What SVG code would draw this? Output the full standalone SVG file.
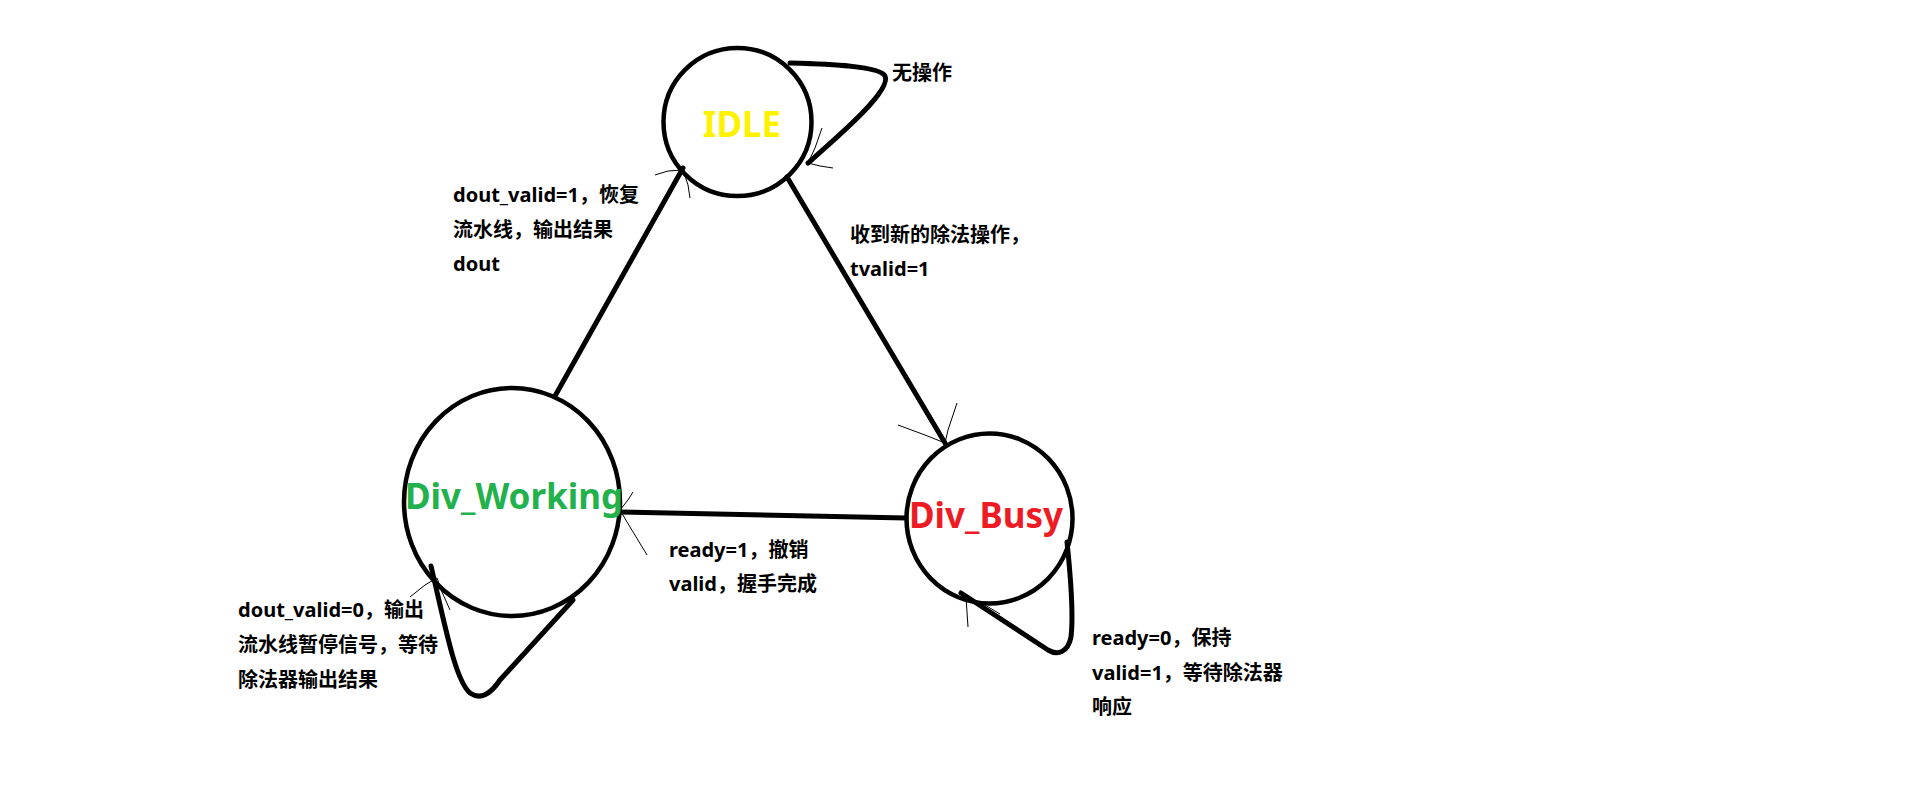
<svg xmlns="http://www.w3.org/2000/svg" width="1914" height="787" viewBox="0 0 1914 787">
<style>
.state{fill:none;stroke:#000;stroke-width:4.5}
.edge{fill:none;stroke:#000;stroke-width:5;stroke-linecap:round;stroke-linejoin:round}
.tip{fill:none;stroke:#000;stroke-width:1}
.name{font-family:"Noto Sans","Noto Sans CJK SC",sans-serif;font-weight:bold;font-size:35px;text-anchor:middle}
.lbl{font-family:"Noto Sans","Noto Sans CJK SC",sans-serif;font-weight:bold;font-size:20px;fill:#000}
</style>
<rect width="1914" height="787" fill="#fff"/>
<g id="connectors">
  <path class="edge" d="M790,63 C830,64 880,66 885,76 C892,90 840,135 808,163"/>
  <polyline class="tip" points="822,128 815,148 808,163 820,166 833,168"/>
  <line class="edge" x1="683" y1="168" x2="555" y2="396"/>
  <polyline class="tip" points="655,175 668,171 683,170 688,185 690,198"/>
  <line class="edge" x1="787" y1="177" x2="945" y2="443"/>
  <polyline class="tip" points="898,425 925,435 945,443 948,430 957,403"/>
  <line class="edge" x1="906" y1="518" x2="621" y2="512"/>
  <polyline class="tip" points="633,492 628,500 620,510 627,522 647,555"/>
  <path class="edge" d="M1067,542 C1071,580 1073,620 1071,637 C1068,652 1058,656 1048,650 L961,593"/>
  <polyline class="tip" points="968,627 967,612 966,598 985,605 1000,614"/>
  <path class="edge" d="M431,566 C445,625 455,680 470,693 C480,700 490,695 500,680 L573,600"/>
  <polyline class="tip" points="410,597 425,585 437,578 442,592 450,610"/>
</g>
<g id="idle">
  <ellipse class="state" cx="737.5" cy="122" rx="74" ry="74"/>
  <text class="name" x="742" y="137" fill="#FFF200">IDLE</text>
</g>
<g id="div_working">
  <ellipse class="state" cx="512" cy="502" rx="108" ry="114"/>
  <text class="name" x="514" y="509" fill="#22B14C">Div_Working</text>
</g>
<g id="div_busy">
  <ellipse class="state" cx="989.5" cy="518.5" rx="83" ry="85"/>
  <text class="name" x="986" y="528" fill="#ED1C24">Div_Busy</text>
</g>
<g id="labels">
  <text class="lbl" x="892" y="80">无操作</text>
  <text class="lbl" x="453" y="202">dout_valid=1，恢复</text>
  <text class="lbl" x="453" y="237">流水线，输出结果</text>
  <text class="lbl" x="453" y="271">dout</text>
  <text class="lbl" x="850" y="242">收到新的除法操作，</text>
  <text class="lbl" x="850" y="276">tvalid=1</text>
  <text class="lbl" x="669" y="557">ready=1，撤销</text>
  <text class="lbl" x="669" y="591">valid，握手完成</text>
  <text class="lbl" x="1092" y="645">ready=0，保持</text>
  <text class="lbl" x="1092" y="680">valid=1，等待除法器</text>
  <text class="lbl" x="1092" y="714">响应</text>
  <text class="lbl" x="238" y="617">dout_valid=0，输出</text>
  <text class="lbl" x="238" y="652">流水线暂停信号，等待</text>
  <text class="lbl" x="238" y="687">除法器输出结果</text>
</g>
</svg>
